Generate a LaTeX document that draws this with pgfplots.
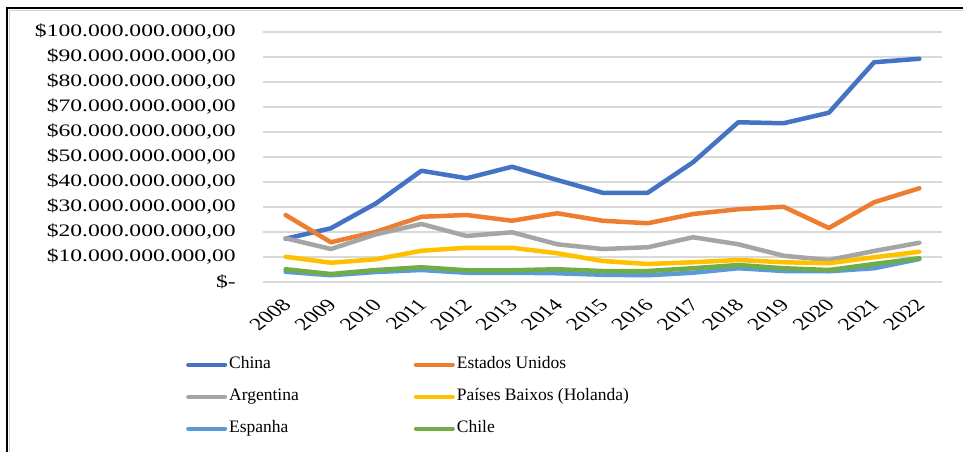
\documentclass[border=0pt]{standalone}
\usepackage{graphicx}
\usepackage{pgfplots}
\usepackage{pgfplotstable}
\pgfplotsset{compat=1.18}
\usepackage{fontspec}
\setmainfont{Liberation Serif}
\newfontfamily\widefont[FakeStretch=1.35]{Liberation Serif}

\definecolor{cChina}{RGB}{68,114,196}
\definecolor{cEUA}{RGB}{237,125,49}
\definecolor{cArg}{RGB}{165,165,165}
\definecolor{cPB}{RGB}{255,192,0}
\definecolor{cEsp}{RGB}{91,155,213}
\definecolor{cChile}{RGB}{112,173,71}
\definecolor{gridc}{RGB}{217,217,217}

% year labels: turned 45 degrees, then widened
\newcommand{\yr}[1]{\scalebox{1.35}[1]{\rotatebox{45}{\fontsize{17.5}{17.5}\selectfont #1}}}

% values in billions of US$, one row per year (2008 = 0)
\pgfplotstableread{
i  china eua  arg  pb   esp chile
0  17.3  26.8 17.5 10.1 4.1 5.1
1  21.5  15.9 13.2 7.7  2.7 3.2
2  31.5  20.1 19.1 9.1  4.0 4.8
3  44.5  26.1 23.2 12.5 4.8 5.9
4  41.5  26.8 18.4 13.7 3.7 4.7
5  46.1  24.5 19.9 13.7 3.7 4.7
6  40.8  27.5 15.1 11.5 3.5 5.1
7  35.7  24.5 13.2 8.4  2.9 4.4
8  35.7  23.5 13.9 7.2  2.7 4.4
9  47.9  27.2 17.9 7.9  3.7 5.5
10 63.9  29.1 15.1 8.8  5.5 6.8
11 63.5  30.1 10.5 7.9  4.4 5.5
12 67.7  21.6 8.8  7.5  4.3 4.8
13 87.9  31.9 12.4 9.9  5.5 7.2
14 89.3  37.5 15.7 12.1 9.2 9.5
}\data

\begin{document}
\begin{tikzpicture}
\useasboundingbox (0pt,0pt) rectangle (963pt,451pt);
\fill[white] (0pt,0pt) rectangle (963pt,451pt);
% chart frame
\draw[gray!35, line width=1.5pt] (9.5pt,-5pt) -- (9.5pt,440.5pt) -- (970pt,440.5pt);
\draw[black, line width=2pt] (7pt,-5pt) -- (7pt,443pt) -- (970pt,443pt);

\begin{axis}[
  at={(263pt,169pt)}, anchor=south west,
  scale only axis, width=679pt, height=250pt,
  xmin=-0.5, xmax=14.5, ymin=0, ymax=100,
  axis line style={draw=none},
  major tick length=0pt,
  ymajorgrids, grid style={gridc, line width=1.5pt},
  ytick={0,10,...,100},
  yticklabels={{\$-\hspace{11pt}},{\$10.000.000.000,00},{\$20.000.000.000,00},{\$30.000.000.000,00},{\$40.000.000.000,00},{\$50.000.000.000,00},{\$60.000.000.000,00},{\$70.000.000.000,00},{\$80.000.000.000,00},{\$90.000.000.000,00},{\$100.000.000.000,00}},
  yticklabel style={anchor=east, inner sep=0pt, xshift=-27pt, font=\widefont\fontsize{17.5}{17.5}\selectfont},
  xtick={0,...,14},
  xticklabels={\yr{2008},\yr{2009},\yr{2010},\yr{2011},\yr{2012},\yr{2013},\yr{2014},\yr{2015},\yr{2016},\yr{2017},\yr{2018},\yr{2019},\yr{2020},\yr{2021},\yr{2022}},
  xticklabel style={anchor=north east, inner sep=0pt, xshift=7pt, yshift=-16pt},
  legend columns=2,
  legend cell align=left,
  legend image code/.code={\draw[#1, line width=4pt, line cap=round] (0pt,0pt) -- (37pt,0pt);},
  legend style={at={(axis description cs:-0.1134,-0.298)}, anchor=north west,
    draw=none, fill=none, inner sep=0pt, row sep=16pt,
    font=\fontsize{17.5}{17.5}\selectfont,
    nodes={inner sep=0pt, text height=12pt, text depth=4pt},
    /tikz/every odd column/.append style={column sep=2pt},
    /tikz/every even column/.append style={column sep=115pt}},
  every axis plot/.append style={line width=4.5pt, line join=round, line cap=round},
]
\addplot[cChina] table[x=i, y=china] {\data};
\addlegendentry{China}
\addplot[cEUA] table[x=i, y=eua] {\data};
\addlegendentry{Estados Unidos}
\addplot[cArg] table[x=i, y=arg] {\data};
\addlegendentry{Argentina}
\addplot[cPB] table[x=i, y=pb] {\data};
\addlegendentry{Países Baixos (Holanda)}
\addplot[cEsp] table[x=i, y=esp] {\data};
\addlegendentry{Espanha}
\addplot[cChile] table[x=i, y=chile] {\data};
\addlegendentry{Chile}
\end{axis}
\end{tikzpicture}
\end{document}
